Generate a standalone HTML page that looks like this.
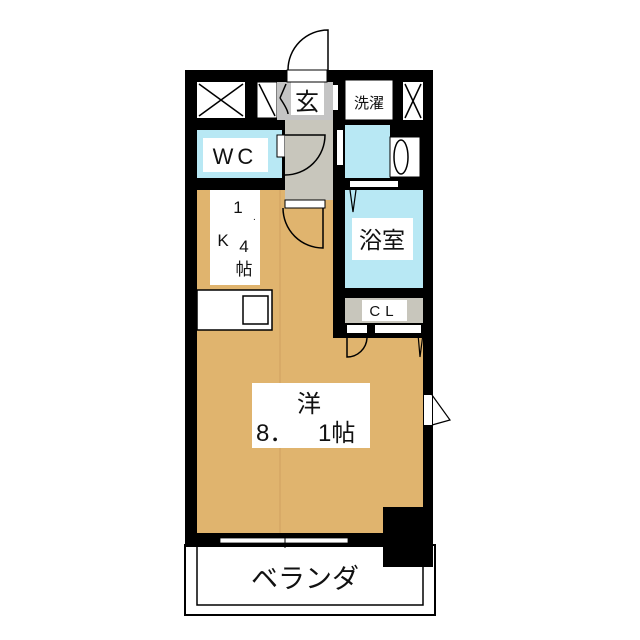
<!DOCTYPE html>
<html><head><meta charset="utf-8"><style>
html,body{margin:0;padding:0;background:#fff;}
svg{display:block}
text{font-family:"Liberation Sans","Noto Sans CJK JP",sans-serif;fill:#111}
</style></head><body>
<svg width="640" height="640" viewBox="0 0 640 640" xmlns="http://www.w3.org/2000/svg">
<rect width="640" height="640" fill="#fff"/>
<!-- balcony -->
<rect x="185" y="545" width="250" height="70" fill="#fff" stroke="#000" stroke-width="2"/>
<rect x="197" y="545" width="226" height="60" fill="#fff" stroke="#000" stroke-width="1.5"/>
<!-- building black base -->
<rect x="185" y="70" width="248" height="477" fill="#000"/>
<!-- main orange -->
<rect x="197" y="190" width="136" height="343" fill="#e0b46e"/>
<rect x="333" y="338" width="90" height="195" fill="#e0b46e"/>
<rect x="383" y="507" width="50" height="60" fill="#000"/>
<!-- kitchen label area -->
<rect x="210" y="190" width="50" height="95" fill="#fff"/>
<text x="238" y="213" font-size="17" text-anchor="middle">1</text>
<text x="253" y="220" font-size="10">.</text>
<text x="223" y="246" font-size="17" text-anchor="middle">K</text>
<text x="244" y="252" font-size="17" text-anchor="middle">4</text>
<text x="244" y="275" font-size="17" text-anchor="middle">帖</text>
<!-- counter -->
<rect x="197" y="290" width="75" height="40" fill="#fff" stroke="#000" stroke-width="1.5"/>
<rect x="243" y="296" width="25" height="28" fill="#fff" stroke="#000" stroke-width="1.5"/>
<line x1="280" y1="190" x2="280" y2="533" stroke="#d0a060" stroke-width="1"/>
<!-- top row -->
<rect x="197" y="82" width="48" height="36" fill="#fff"/>
<path d="M199 84 L243 116 M243 84 L199 116" stroke="#000" stroke-width="1.5"/>
<rect x="257" y="82" width="20" height="36" fill="#fff" stroke="#000" stroke-width="1"/>
<path d="M259 84 L275 116" stroke="#000" stroke-width="1.5"/>
<rect x="277" y="82" width="56" height="38" fill="#c4c4c4"/>
<path d="M280 98 Q286 84 286 84 M280 98 Q288 110 288 114" stroke="#000" stroke-width="1.5" fill="none"/>
<rect x="291" y="82" width="33" height="33" fill="#fff"/>
<text x="307" y="110" font-size="24" text-anchor="middle">玄</text>
<rect x="287" y="70" width="40" height="12" fill="#fff" stroke="#000" stroke-width="1"/>
<path d="M328 70 L328 30 A40 40 0 0 0 288 70" stroke="#000" stroke-width="1.5" fill="none"/>
<rect x="345" y="80" width="48" height="40" fill="#fff" stroke="#000" stroke-width="1"/>
<text x="369" y="108" font-size="15" text-anchor="middle">洗濯</text>
<rect x="403" y="82" width="20" height="38" fill="#fff"/>
<path d="M405 84 L421 118 M421 84 L405 118" stroke="#000" stroke-width="1.5"/>
<!-- WC -->
<rect x="197" y="130" width="85" height="48" fill="#b8e8f4"/>
<rect x="203" y="138" width="65" height="34" fill="#fff"/>
<text x="235" y="164" font-size="22" text-anchor="middle" letter-spacing="4">WC</text>
<rect x="277" y="135" width="8" height="22" fill="#fff" stroke="#000" stroke-width="1"/>
<!-- hallway -->
<rect x="285" y="120" width="48" height="80" fill="#c8c6bc"/>
<path d="M285 135 L325 135 A40 40 0 0 1 285 175" stroke="#000" stroke-width="1.5" fill="none"/>
<rect x="333" y="85" width="5" height="25" fill="#fff"/>
<rect x="337" y="130" width="6" height="35" fill="#fff"/>
<rect x="285" y="200" width="40" height="8" fill="#fff" stroke="#000" stroke-width="1"/>
<path d="M283 208 A40 40 0 0 0 323 248 L323 208" stroke="#000" stroke-width="1.5" fill="none"/>
<!-- washroom -->
<rect x="345" y="125" width="45" height="53" fill="#b8e8f4"/>
<rect x="390" y="137" width="30" height="40" fill="#fff" stroke="#000" stroke-width="1"/>
<ellipse cx="401" cy="157" rx="7" ry="17" fill="#fff" stroke="#000" stroke-width="1.5"/>
<rect x="350" y="181" width="48" height="6" fill="#fff"/>
<!-- bath -->
<rect x="345" y="190" width="78" height="98" fill="#b8e8f4"/>
<path d="M350 190 L353 212 L356 190" stroke="#000" stroke-width="1.2" fill="none"/>
<rect x="352" y="218" width="61" height="42" fill="#fff"/>
<text x="382" y="248" font-size="23" text-anchor="middle">浴室</text>
<!-- CL -->
<rect x="345" y="298" width="78" height="25" fill="#c8c6bc"/>
<rect x="362" y="300" width="45" height="21" fill="#fff"/>
<text x="384" y="316" font-size="15" text-anchor="middle" letter-spacing="5">CL</text>
<rect x="347" y="325" width="20" height="8" fill="#fff"/>
<rect x="375" y="325" width="46" height="8" fill="#fff"/>
<path d="M347 338 L347 357 A20 20 0 0 0 367 338" stroke="#000" stroke-width="1.5" fill="none"/>
<path d="M418 334 L420 357 L423 334" stroke="#000" stroke-width="1.2" fill="none"/>
<!-- main label -->
<rect x="252" y="383" width="118" height="65" fill="#fff"/>
<text x="309" y="412" font-size="24" text-anchor="middle">洋</text>
<text x="256" y="441" font-size="24">8．</text>
<text x="318" y="441" font-size="24">1帖</text>
<!-- right window -->
<rect x="424" y="395" width="8" height="30" fill="#fff"/>
<path d="M432 395 L450 420 L432 425" stroke="#000" stroke-width="1.2" fill="none"/>
<!-- bottom window -->
<rect x="220" y="538" width="128" height="5" fill="#fff" stroke="#000" stroke-width="0.8"/>
<line x1="285" y1="536" x2="285" y2="548" stroke="#000" stroke-width="1"/>
<text x="305" y="588" font-size="27" text-anchor="middle">ベランダ</text>
</svg>
</body></html>
